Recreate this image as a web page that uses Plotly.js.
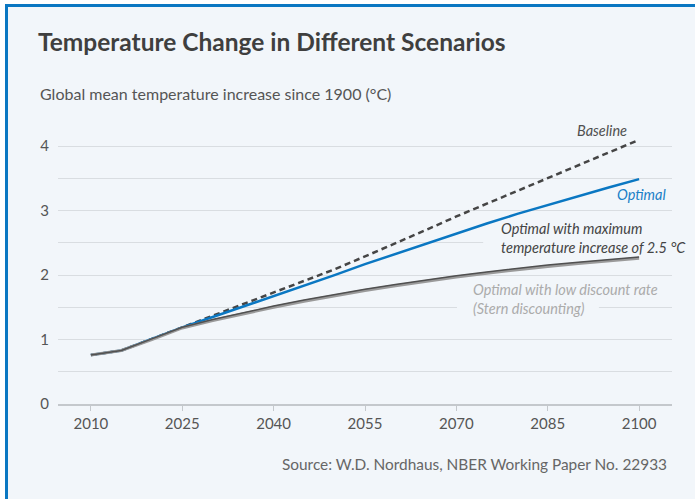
<!DOCTYPE html>
<html>
<head>
<meta charset="utf-8">
<script src="https://cdn.plot.ly/plotly-3.0.1.min.js"></script>
<style>
  html, body { margin: 0; padding: 0; background: #ffffff; }
  #frame { position: absolute; left: 5px; top: 4px; width: 687px; height: 492px;
           background: #f2f6fa; border-left: 3px solid #0a77c2; border-top: 3px solid #0a77c2; }
  #chart { position: absolute; left: 0; top: 0; width: 695px; height: 499px; }
</style>
</head>
<body>
<div id="frame"></div>
<div id="chart"></div>
<script>
// ---- data ----
const years = [2010, 2015, 2020, 2025, 2030, 2035, 2040, 2045, 2050, 2055, 2060, 2065, 2070, 2075, 2080, 2085, 2090, 2095, 2100];
const baseline = [0.76, 0.83, 1.01, 1.19, 1.36, 1.54, 1.72, 1.90, 2.09, 2.29, 2.49, 2.70, 2.91, 3.11, 3.31, 3.51, 3.71, 3.91, 4.10];
const optimal  = [0.76, 0.83, 1.01, 1.19, 1.35, 1.51, 1.67, 1.83, 2.00, 2.17, 2.33, 2.49, 2.65, 2.80, 2.95, 3.09, 3.23, 3.36, 3.49];
const maxTemp  = [0.76, 0.83, 1.01, 1.19, 1.31, 1.42, 1.52, 1.615, 1.70, 1.78, 1.855, 1.925, 1.99, 2.05, 2.105, 2.155, 2.20, 2.24, 2.28];
const stern    = [0.76, 0.83, 1.00, 1.18, 1.295, 1.40, 1.50, 1.595, 1.68, 1.76, 1.835, 1.905, 1.97, 2.03, 2.085, 2.135, 2.18, 2.22, 2.26];
const xTickVals = [2010, 2025, 2040, 2055, 2070, 2085, 2100];
const xTickText = ['2010', '2025', '2040', '2055', '2070', '2085', '2100'];
const yTickVals = [0, 0.5, 1, 1.5, 2, 2.5, 3, 3.5, 4, 4.5];
const yTickText = ['0', '', '1', '', '2', '', '3', '', '4', ''];
const titleText = 'Temperature Change in Different Scenarios';
const yTitleText = 'Global mean temperature increase since 1900 (°C)';
const sourceText = 'Source: W.D. Nordhaus, NBER Working Paper No. 22933';

const FONT = 'Lato, "Noto Sans", sans-serif';
const BG = '#f2f6fa';

const traces = [
  { x: years, y: baseline, mode: 'lines', line: { color: '#454545', width: 2.5, dash: '6px,4px' }, hoverinfo: 'skip' },
  { x: years, y: optimal, mode: 'lines', line: { color: '#0a77c2', width: 2.5 }, hoverinfo: 'skip' },
  { x: years, y: stern, mode: 'lines', line: { color: '#9a9a9a', width: 3 }, hoverinfo: 'skip' },
  { x: years, y: maxTemp, mode: 'lines', line: { color: '#505050', width: 1.5 }, hoverinfo: 'skip' }
];

const labelFont = (c) => ({ family: FONT, size: 14.5, color: c, style: 'italic' });

const layout = {
  width: 695, height: 499,
  paper_bgcolor: 'rgba(0,0,0,0)', plot_bgcolor: 'rgba(0,0,0,0)',
  showlegend: false,
  margin: { l: 58, r: 23, t: 114, b: 95 },
  title: { text: '<b>' + titleText + '</b>', xref: 'container', yref: 'container', x: 38 / 695, xanchor: 'left',
           y: 1 - 42 / 499, yanchor: 'middle', font: { family: FONT, size: 24.5, color: '#3f3f3f' } },
  xaxis: { range: [2004.6, 2105.4], tickvals: xTickVals, ticktext: xTickText, showgrid: false, zeroline: false,
           showline: true, linecolor: '#c4c8cc', linewidth: 1.5, ticks: 'outside', ticklen: 5, tickcolor: '#c4c8cc',
           tickfont: { family: FONT, size: 15, color: '#555' } },
  yaxis: { range: [0, 4.5], tickvals: yTickVals, ticktext: yTickText, showgrid: true, gridcolor: '#d9dde1', gridwidth: 1.2,
           zeroline: false, ticks: '', ticklabelstandoff: 8, tickfont: { family: FONT, size: 15, color: '#555' } },
  shapes: [
    { type: 'rect', layer: 'between', xref: 'x', yref: 'y', x0: 2074.4, x1: 2106, y0: 2.44, y1: 2.56, fillcolor: BG, line: { width: 0 } },
    { type: 'rect', layer: 'between', xref: 'x', yref: 'y', x0: 2070.1, x1: 2093.4, y0: 1.44, y1: 1.56, fillcolor: BG, line: { width: 0 } }
  ],
  annotations: [
    { text: yTitleText, xref: 'paper', yref: 'paper', x: -0.033, y: 1.072, xanchor: 'left', yanchor: 'middle', showarrow: false,
      font: { family: FONT, size: 16, color: '#555' } },
    { text: sourceText, xref: 'paper', yref: 'paper', x: 0.995, y: -0.207, xanchor: 'right', yanchor: 'middle', showarrow: false,
      font: { family: FONT, size: 15.4, color: '#666' } },
    { text: 'Baseline', x: 2098.3, y: 4.25, xanchor: 'right', yanchor: 'middle', showarrow: false, font: labelFont('#505050') },
    { text: 'Optimal', x: 2104.7, y: 3.245, xanchor: 'right', yanchor: 'middle', showarrow: false, font: labelFont('#1a7fc7') },
    { text: 'Optimal with maximum<br>temperature increase of 2.5 °C', x: 2077.0, y: 2.58, xanchor: 'left', yanchor: 'middle', align: 'left',
      showarrow: false, font: labelFont('#444') },
    { text: 'Optimal with low discount rate<br>(Stern discounting)', x: 2072.4, y: 1.63, xanchor: 'left', yanchor: 'middle', align: 'left',
      showarrow: false, font: labelFont('#ababab') }
  ]
};

Plotly.newPlot('chart', traces, layout, { displayModeBar: false, staticPlot: true });
</script>
</body>
</html>
